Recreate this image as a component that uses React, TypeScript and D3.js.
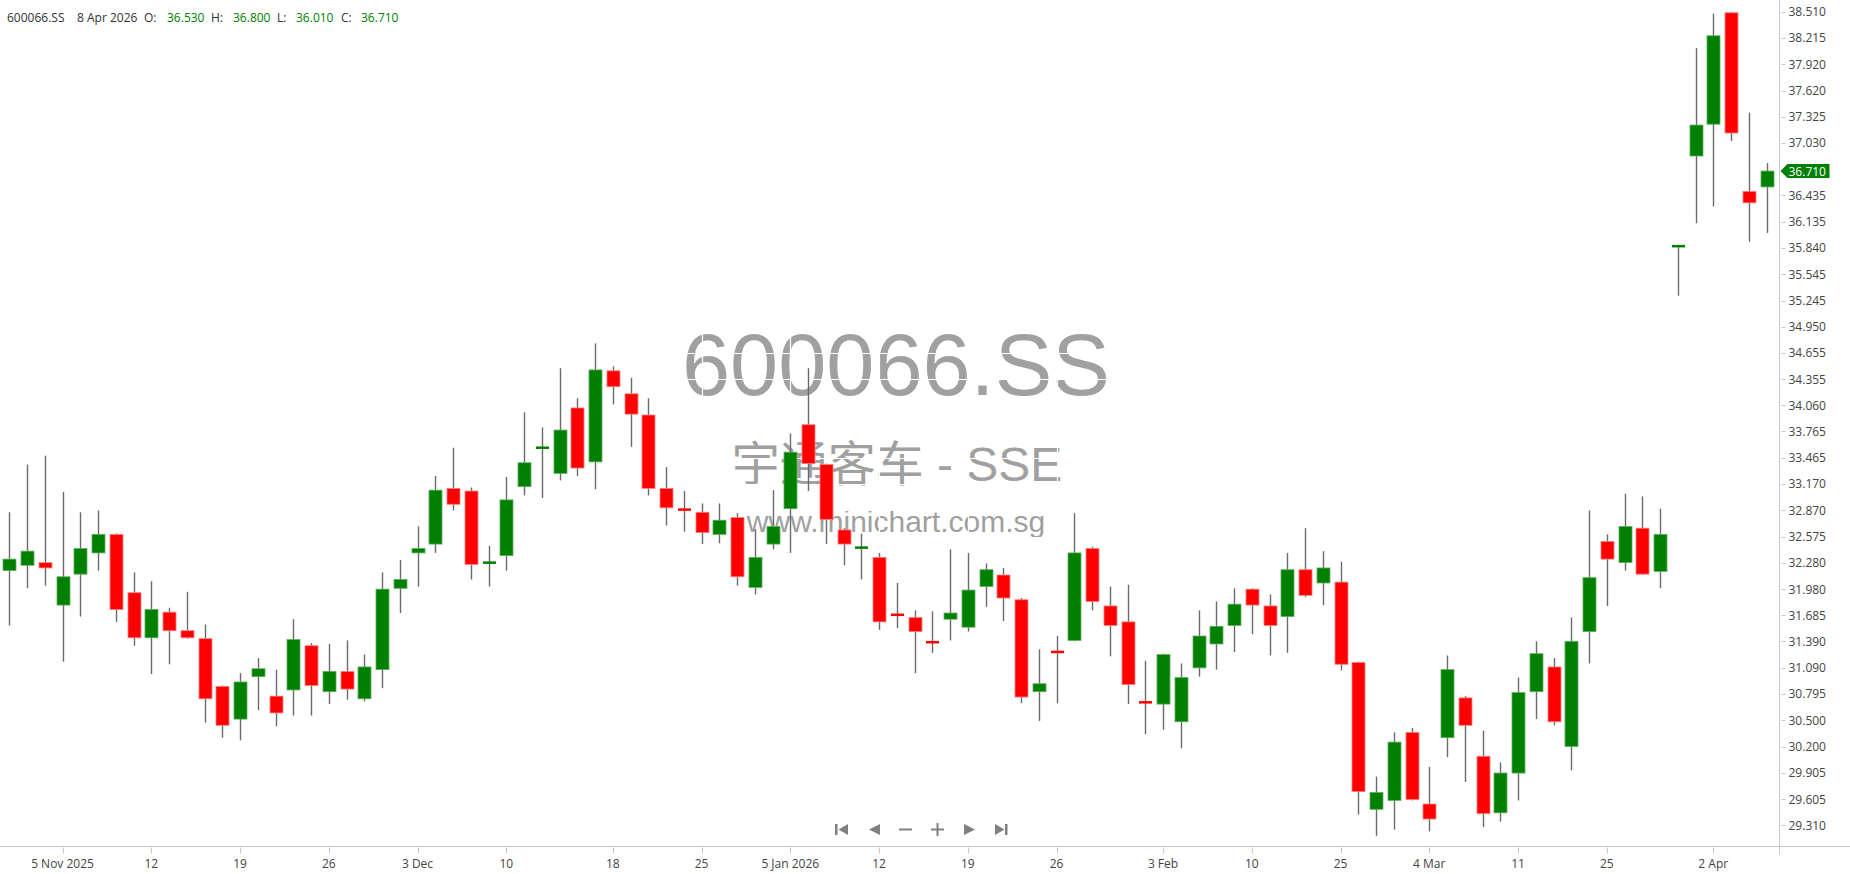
import React, { useEffect } from 'react';
import * as d3 from 'd3';

const symbol = '600066.SS';
const nameLine = '宇通客车 - SSE';
const site = 'www.minichart.com.sg';

const dates = [
  '2025-10-31','2025-11-03','2025-11-04','2025-11-05','2025-11-06','2025-11-07','2025-11-10','2025-11-11','2025-11-12','2025-11-13',
  '2025-11-14','2025-11-17','2025-11-18','2025-11-19','2025-11-20','2025-11-21','2025-11-24','2025-11-25','2025-11-26','2025-11-27',
  '2025-11-28','2025-12-01','2025-12-02','2025-12-03','2025-12-04','2025-12-05','2025-12-08','2025-12-09','2025-12-10','2025-12-11',
  '2025-12-12','2025-12-15','2025-12-16','2025-12-17','2025-12-18','2025-12-19','2025-12-22','2025-12-23','2025-12-24','2025-12-25',
  '2025-12-26','2025-12-29','2025-12-30','2025-12-31','2026-01-05','2026-01-06','2026-01-07','2026-01-08','2026-01-09','2026-01-12',
  '2026-01-13','2026-01-14','2026-01-15','2026-01-16','2026-01-19','2026-01-20','2026-01-21','2026-01-22','2026-01-23','2026-01-26',
  '2026-01-27','2026-01-28','2026-01-29','2026-01-30','2026-02-02','2026-02-03','2026-02-04','2026-02-05','2026-02-06','2026-02-09',
  '2026-02-10','2026-02-11','2026-02-12','2026-02-13','2026-02-24','2026-02-25','2026-02-26','2026-02-27','2026-03-02','2026-03-03',
  '2026-03-04','2026-03-05','2026-03-06','2026-03-09','2026-03-10','2026-03-11','2026-03-12','2026-03-13','2026-03-16','2026-03-17',
  '2026-03-25','2026-03-26','2026-03-27','2026-03-30','2026-03-31','2026-04-01','2026-04-02','2026-04-03','2026-04-07','2026-04-08',
];

const opens = [
  32.19,32.25,32.28,31.80,32.15,32.39,32.60,31.94,31.43,31.72,
  31.51,31.42,30.88,30.51,30.99,30.77,30.84,31.34,30.82,31.05,
  30.74,31.07,31.99,32.39,32.49,33.12,33.09,32.28,32.36,33.14,
  33.58,33.29,34.03,33.42,34.45,34.19,33.95,33.12,32.89,32.85,
  32.60,32.79,32.00,32.49,32.89,33.84,33.39,32.65,32.45,32.34,
  31.70,31.66,31.39,31.64,31.55,32.01,32.14,31.86,30.82,31.28,
  31.40,32.44,31.79,31.61,30.71,30.68,30.48,31.09,31.36,31.57,
  31.98,31.79,31.67,32.20,32.05,32.06,31.15,29.49,29.59,30.36,
  29.55,30.30,30.75,30.09,29.45,29.90,30.82,31.10,30.20,31.50,
  32.52,32.28,32.67,32.18,35.86,36.88,37.24,38.50,36.48,36.53,
];
const highs = [
  32.85,33.39,33.49,33.08,32.85,32.87,32.61,32.17,32.07,31.77,
  31.95,31.58,30.89,31.03,31.20,31.07,31.64,31.37,31.36,31.40,
  31.24,32.17,32.31,32.69,33.26,33.58,33.13,32.47,33.25,33.98,
  33.81,34.48,34.14,34.76,34.50,34.37,34.14,33.36,33.09,32.95,
  32.95,32.84,32.66,33.10,33.74,34.48,33.40,32.67,32.61,32.39,
  32.05,31.74,31.73,32.43,32.39,32.27,32.22,31.88,31.30,31.45,
  32.84,32.46,32.01,32.03,31.17,31.25,31.14,31.74,31.84,31.99,
  31.99,31.92,32.39,32.67,32.41,32.29,31.16,29.86,30.36,30.41,
  29.97,31.23,30.77,30.38,30.02,30.98,31.39,31.20,31.66,32.87,
  32.60,33.06,33.03,32.89,35.86,38.10,38.49,38.51,37.37,36.80,
];
const lows = [
  31.57,31.99,32.02,31.16,31.67,32.19,31.61,31.34,31.02,31.13,
  31.42,30.47,30.30,30.27,30.61,30.43,30.55,30.55,30.68,30.73,
  30.71,30.86,31.71,32.01,32.39,32.87,32.09,32.01,32.19,33.04,
  33.01,33.21,33.26,33.11,34.07,33.59,33.04,32.70,32.63,32.49,
  32.50,32.02,31.92,32.43,32.39,33.09,32.49,32.25,32.09,31.52,
  31.54,31.03,31.26,31.40,31.50,31.78,31.62,30.69,30.49,30.69,
  31.39,31.74,31.22,30.68,30.34,30.39,30.18,30.99,31.07,31.27,
  31.47,31.23,31.26,31.89,31.80,31.06,29.43,29.19,29.26,29.59,
  29.24,30.08,29.80,29.29,29.35,29.59,30.51,30.44,29.93,31.14,
  31.79,32.19,32.14,31.99,35.30,36.12,36.31,37.05,35.91,36.01,
];
const closes = [
  32.32,32.41,32.22,32.12,32.44,32.60,31.75,31.43,31.75,31.51,
  31.43,30.74,30.44,30.93,31.08,30.58,31.41,30.89,31.05,30.85,
  31.10,31.98,32.09,32.44,33.10,32.94,32.26,32.28,32.99,33.41,
  33.58,33.78,33.35,34.46,34.27,33.96,33.12,32.90,32.87,32.62,
  32.76,32.12,32.34,32.69,33.53,33.40,32.77,32.49,32.45,31.61,
  31.68,31.50,31.37,31.71,31.97,32.20,31.88,30.76,30.91,31.26,
  32.39,31.84,31.57,30.90,30.69,31.24,30.98,31.45,31.56,31.81,
  31.80,31.57,32.20,31.91,32.22,31.13,29.69,29.68,30.25,29.60,
  29.38,31.07,30.44,29.44,29.90,30.81,31.25,30.48,31.39,32.11,
  32.32,32.69,32.15,32.60,35.86,37.23,38.24,37.14,36.35,36.71,
];

const xTickDates = ['2025-11-05','2025-11-12','2025-11-19','2025-11-26','2025-12-03','2025-12-10','2025-12-18','2025-12-25','2026-01-05','2026-01-12','2026-01-19','2026-01-26','2026-02-03','2026-02-10','2026-02-25','2026-03-04','2026-03-11','2026-03-25','2026-04-02'];
const xTickLabels = ['5 Nov 2025','12','19','26','3 Dec','10','18','25','5 Jan 2026','12','19','26','3 Feb','10','25','4 Mar','11','25','2 Apr'];

const yTickLabels = ['38.510','38.215','37.920','37.620','37.325','37.030','36.435','36.135','35.840','35.545','35.245','34.950','34.655','34.355','34.060','33.765','33.465','33.170','32.870','32.575','32.280','31.980','31.685','31.390','31.090','30.795','30.500','30.200','29.905','29.605','29.310'];

const W = 1850;
const H = 874;
const AXIS_X = 1779.5;
const AXIS_Y = 846.5;
const UP = '#008000';
const DOWN = '#ff0000';
const UI_FONT = "'Open Sans', 'DejaVu Sans', sans-serif";
const WM_FONT = "'Liberation Sans', Arial, 'Noto Sans CJK SC', sans-serif";

export default function App() {
  useEffect(() => {
    document.body.style.margin = '0';
  }, []);

  const x = d3.scalePoint<string>().domain(dates).range([9.3, 1766.5]);
  const y = d3.scaleLinear().domain([29.31, 38.51]).range([825.2, 11.9]);
  const bodyW = 13;
  const fmt = d3.format('.3f');

  const last = dates.length - 1;
  const lastDate = d3.timeFormat('%-d %b %Y')(d3.timeParse('%Y-%m-%d')(dates[last]) as Date);
  const lastUp = closes[last] >= opens[last];

  const legend: [number, string, string][] = [
    [7, symbol, '#333'],
    [77, lastDate, '#333'],
    [144, 'O:', '#333'],
    [167, fmt(opens[last]), UP],
    [211, 'H:', '#333'],
    [233, fmt(highs[last]), UP],
    [277, 'L:', '#333'],
    [296, fmt(lows[last]), UP],
    [341, 'C:', '#333'],
    [361, fmt(closes[last]), UP],
  ];

  const lastY = y(closes[last]);
  const navY = 829.5;
  const navFill = '#808080';

  return (
    <svg width={W} height={H} style={{ position: 'absolute', left: 0, top: 0, display: 'block', background: '#fff' }}>
      <rect x={0} y={0} width={W} height={H} fill="#fff" />
      {/* watermark */}
      <g fill="#a0a0a0" fontFamily={WM_FONT} textAnchor="middle">
        <text x={896} y={395} fontSize={86.5}>{symbol}</text>
        <text x={897} y={481} fontSize={48}>{nameLine}</text>
        <text x={896} y={532} fontSize={30}>{site}</text>
      </g>
      {/* white grid over watermark */}
      <g stroke="#fff" strokeWidth={1.2}>
        {yTickLabels.map((t) => (
          <line key={'gy' + t} x1={0} x2={AXIS_X} y1={Math.round(y(+t)) + 0.5} y2={Math.round(y(+t)) + 0.5} />
        ))}
        {xTickDates.map((d) => (
          <line key={'gx' + d} x1={Math.round(x(d)!) + 0.5} x2={Math.round(x(d)!) + 0.5} y1={0} y2={AXIS_Y} />
        ))}
      </g>
      {/* candles */}
      <g>
        {dates.map((d, i) => {
          const cx = Math.round(x(d)!) + 0.5;
          const up = closes[i] >= opens[i];
          const yTop = y(Math.max(opens[i], closes[i]));
          const yBot = y(Math.min(opens[i], closes[i]));
          let h = yBot - yTop;
          let top = yTop;
          if (h < 2.5) {
            top = (yTop + yBot) / 2 - 1.25;
            h = 2.5;
          }
          return (
            <g key={d}>
              <line x1={cx} x2={cx} y1={y(highs[i])} y2={y(lows[i])} stroke="#6a6a6a" strokeWidth={1.4} />
              <rect
                x={cx - bodyW / 2}
                y={top}
                width={bodyW}
                height={h}
                fill={up ? UP : DOWN}
                stroke={up ? '#5fae5f' : '#ff8080'}
                strokeWidth={h > 4 ? 0.8 : 0}
              />
            </g>
          );
        })}
      </g>
      {/* axes */}
      <line x1={0} x2={W} y1={AXIS_Y} y2={AXIS_Y} stroke="#c8c8c8" strokeWidth={1} />
      <line x1={AXIS_X} x2={AXIS_X} y1={0} y2={AXIS_Y + 8} stroke="#c8c8c8" strokeWidth={1} />
      <g fontFamily={UI_FONT} fontSize={12} fill="#444">
        {yTickLabels.map((t) => (
          <g key={'yt' + t}>
            <line x1={AXIS_X + 2} x2={AXIS_X + 6} y1={Math.round(y(+t)) + 0.5} y2={Math.round(y(+t)) + 0.5} stroke="#c8c8c8" />
            <text x={AXIS_X + 9} y={y(+t)} dominantBaseline="central">{t}</text>
          </g>
        ))}
      </g>
      <g fontFamily={UI_FONT} fontSize={12} fill="#444" textAnchor="middle">
        {xTickDates.map((d, k) => (
          <g key={'xt' + d}>
            <line x1={Math.round(x(d)!) + 0.5} x2={Math.round(x(d)!) + 0.5} y1={AXIS_Y + 1} y2={AXIS_Y + 7} stroke="#c8c8c8" />
            <text x={x(d)!} y={868}>{xTickLabels[k]}</text>
          </g>
        ))}
      </g>
      {/* last price marker */}
      <path
        d={`M${AXIS_X + 1},${lastY} L${AXIS_X + 8},${lastY - 7} L${AXIS_X + 50},${lastY - 7} L${AXIS_X + 50},${lastY + 7} L${AXIS_X + 8},${lastY + 7} Z`}
        fill={lastUp ? UP : DOWN}
      />
      <text x={AXIS_X + 9} y={lastY} dominantBaseline="central" fontFamily={UI_FONT} fontSize={12} fill="#fff">
        {fmt(closes[last])}
      </text>
      {/* legend */}
      <g fontFamily={UI_FONT} fontSize={12}>
        {legend.map(([lx, t, c], k) => (
          <text key={'lg' + k} x={lx} y={22} fill={c}>{t}</text>
        ))}
      </g>
      {/* navigation buttons */}
      <g fill={navFill}>
        <rect x={835} y={navY - 5.5} width={2.5} height={11} />
        <path d={`M848,${navY - 5.5} L848,${navY + 5.5} L838.5,${navY} Z`} />
        <path d={`M880,${navY - 5.5} L880,${navY + 5.5} L869,${navY} Z`} />
        <rect x={899} y={navY - 1} width={13} height={2} />
        <rect x={931} y={navY - 1} width={13} height={2} />
        <rect x={936.5} y={navY - 6.5} width={2} height={13} />
        <path d={`M964,${navY - 5.5} L964,${navY + 5.5} L975,${navY} Z`} />
        <path d={`M995,${navY - 5.5} L995,${navY + 5.5} L1004.5,${navY} Z`} />
        <rect x={1005} y={navY - 5.5} width={2.5} height={11} />
      </g>
    </svg>
  );
}
